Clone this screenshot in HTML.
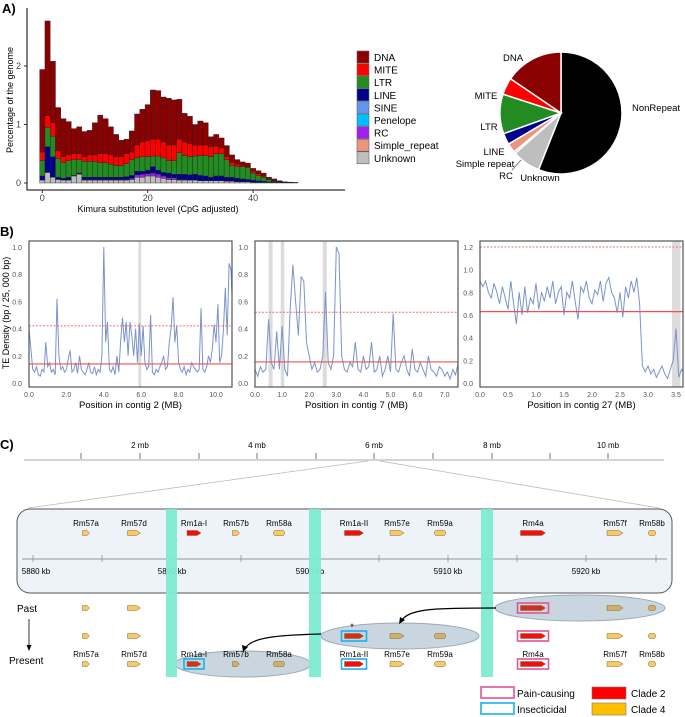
<!DOCTYPE html>
<html><head><meta charset="utf-8"><style>
html,body{margin:0;padding:0;background:#fff;}
svg{display:block;font-family:"Liberation Sans",sans-serif;}
</style></head><body>
<svg id="fig" width="685" height="717" viewBox="0 0 685 717">
<g id="A"></g>
<g id="B"></g>
<g id="C"></g>
</svg>
<script>
// ---------- Panel A data ----------
const kimura = [0,1,2,3,4,5,6,7,8,9,10,11,12,13,14,15,16,17,18,19,20,21,22,23,24,25,26,27,28,29,30,31,32,33,34,35,36,37,38,39,40,41,42,43,44,45,46,47,48];
const unknownTop = [.05,.18,.1,.06,.05,.05,.12,.15,.05,.05,.05,.05,.05,.05,.05,.05,.05,.06,.1,.1,.12,.12,.1,.08,.06,.06,.05,.05,.05,.05,.04,.04,.04,.04,.04,.03,.03,.02,.02,.02,.01,.01,.01,.01,.01,0,0,0,0];
const rcTop = [.05,.18,.1,.06,.05,.05,.12,.15,.06,.06,.06,.06,.06,.06,.06,.06,.06,.08,.14,.15,.16,.17,.15,.12,.09,.09,.06,.06,.05,.05,.04,.04,.04,.04,.04,.03,.03,.02,.02,.02,.01,.01,.01,.01,.01,0,0,0,0];
const lineTop = [.12,.62,.45,.1,.08,.1,.13,.17,.1,.1,.1,.1,.1,.1,.1,.1,.11,.13,.2,.2,.22,.28,.22,.18,.17,.15,.15,.15,.14,.15,.13,.12,.1,.12,.12,.1,.1,.08,.07,.06,.05,.04,.03,.02,.02,.01,.01,.005,.003];
const ltrTop = [.38,.95,.8,.42,.35,.38,.4,.4,.37,.37,.37,.35,.35,.32,.3,.3,.33,.4,.43,.45,.45,.46,.46,.43,.38,.38,.52,.47,.45,.46,.47,.47,.45,.5,.5,.4,.3,.28,.28,.26,.17,.13,.1,.06,.03,.02,.012,.008,.005];
const miteTop = [.53,1.15,1.03,.55,.45,.48,.5,.5,.45,.48,.48,.5,.5,.48,.45,.45,.5,.53,.65,.7,.72,.75,.75,.7,.65,.65,.75,.7,.67,.65,.65,.65,.62,.63,.6,.45,.35,.32,.3,.28,.2,.16,.12,.07,.04,.03,.015,.01,.006];
const totalTop = [1.94,2.77,2.08,1.29,1.10,1.05,0.93,0.96,0.88,0.90,1.03,1.16,1.10,0.96,0.83,0.73,0.75,0.89,1.18,1.26,1.34,1.59,1.58,1.47,1.45,1.42,1.43,1.19,1.14,1.00,1.06,1.03,0.79,0.83,0.77,0.64,0.48,0.40,0.36,0.34,0.25,0.21,0.17,0.10,0.07,0.04,0.02,0.015,0.01];
const aYTicks = [0,1,2];
const aXTicks = [0,20,40];
const legendNames = ["DNA","MITE","LTR","LINE","SINE","Penelope","RC","Simple_repeat","Unknown"];
const legendColors = ["#8b0000","#ff0000","#228b22","#00008b","#6495ed","#00bfff","#a020f0","#e9967a","#bebebe"];
const pieNames = ["NonRepeat","Unknown","RC","Simple repeat","LINE","LTR","MITE","DNA"];
const pieValues = [0.56,0.075,0.005,0.025,0.03,0.105,0.045,0.155];
const pieColors = ["#000000","#bebebe","#a020f0","#e9967a","#00008b","#228b22","#ff0000","#8b0000"];

// ---------- Panel B data ----------
const p1Vals = [0.4,0.25,0.1,0.08,0.12,0.06,0.05,0.1,0.08,0.3,0.12,0.15,0.08,0.1,0.06,0.62,0.2,0.1,0.12,0.08,0.1,0.18,0.24,0.08,0.1,0.15,0.07,0.2,0.1,0.08,0.06,0.1,0.15,0.08,0.07,0.12,0.06,0.1,0.08,0.2,1.0,0.3,0.45,0.1,0.08,0.12,0.06,0.2,0.08,0.3,0.48,0.3,0.45,0.2,0.45,0.35,0.2,0.4,0.15,0.44,0.2,0.42,0.15,0.1,0.12,0.5,0.08,0.06,0.1,0.08,0.12,0.15,0.2,0.1,0.12,0.3,0.4,0.63,0.3,0.42,0.15,0.1,0.08,0.12,0.06,0.1,0.08,0.15,0.12,0.1,0.08,0.1,0.55,0.1,0.08,0.12,0.2,0.15,0.25,0.43,0.3,0.58,0.15,0.2,0.4,0.7,0.35,0.88,0.83,0.5,0.25];
const p2Vals = [0.1,0.05,0.12,0.08,0.1,0.47,0.15,0.1,0.38,0.1,0.42,0.1,0.05,0.55,0.87,0.6,0.35,0.78,0.75,0.3,0.2,0.1,0.15,0.08,0.1,0.2,0.67,0.15,0.1,0.2,1.0,0.95,0.2,0.1,0.08,0.15,0.12,0.3,0.1,0.08,0.2,0.1,0.12,0.3,0.08,0.1,0.2,0.05,0.1,0.2,0.08,0.51,0.1,0.08,0.15,0.2,0.1,0.05,0.25,0.1,0.08,0.15,0.1,0.05,0.2,0.1,0.08,0.05,0.12,0.1,0.05,0.08,0.03,0.1,0.06,0.15,0.1,0.05,0.75];
const p3Vals = [0.9,0.85,0.9,0.8,0.75,0.88,0.8,0.7,0.85,0.75,0.65,0.9,0.7,0.52,0.8,0.6,0.85,0.62,0.75,0.7,0.88,0.65,0.8,0.72,0.85,0.75,0.9,0.7,0.8,0.85,0.6,0.8,0.75,0.9,0.72,0.56,0.85,0.8,0.9,0.75,0.7,0.82,0.78,0.9,0.72,0.88,0.93,0.8,0.75,0.62,0.8,0.58,0.85,0.75,0.9,0.8,0.93,0.7,0.15,0.1,0.15,0.08,0.12,0.05,0.1,0.15,0.08,0.04,0.12,0.2,0.48,0.05,0.12,0.08,0.1,0.76,0.5,0.7,0.3,0.2];
const p1Step = 0.1, p2Step = 0.1, p3Step = 0.05;
const p1Lines = [0.14,0.42], p2Lines = [0.155,0.52], p3Lines = [0.63,1.2];
const p1Bands = [[5.85,6.0]], p2Bands = [[0.5,0.65],[0.95,1.08],[2.5,2.65]], p3Bands = [[3.43,3.58],[3.68,3.78]];
const p1XTicks = ["0.0","2.0","4.0","6.0","8.0","10.0"], p2XTicks = ["0.0","1.0","2.0","3.0","4.0","5.0","6.0","7.0"], p3XTicks = ["0.0","0.5","1.0","1.5","2.0","2.5","3.0","3.5"];
const p12YTicks = ["0.0","0.2","0.4","0.6","0.8","1.0"], p3YTicks = ["0.0","0.2","0.4","0.6","0.8","1.0","1.2"];

const NS="http://www.w3.org/2000/svg";
function mk(parent,tag,attrs,text){const e=document.createElementNS(NS,tag);for(const k in attrs)e.setAttribute(k,attrs[k]);if(text!==undefined)e.textContent=text;parent.appendChild(e);return e;}

// ---------- Panel A ----------
(function(){
const g=document.getElementById('A');
let t=mk(g,'text',{x:2,y:13,'font-size':13,'font-weight':'bold'},'A)');

const X=k=>42.3+5.27*k, Y=v=>183-58.5*v;
let ax=mk(g,'path',{d:'M27,8 V190 H345',stroke:'#000',fill:'none','stroke-width':1});

aYTicks.forEach(v=>{mk(g,'line',{x1:24,x2:27,y1:Y(v),y2:Y(v),stroke:'#333'});
 let l=mk(g,'text',{x:21,y:Y(v)+3,'font-size':9,fill:'#444','text-anchor':'end'},String(v));
 });
aXTicks.forEach(v=>{mk(g,'line',{x1:X(v),x2:X(v),y1:190,y2:193,stroke:'#333'});
 let l=mk(g,'text',{x:X(v),y:201,'font-size':9,fill:'#444','text-anchor':'middle'},String(v));
 });
let xt=mk(g,'text',{x:158,y:212,'font-size':9,'text-anchor':'middle'},'Kimura substitution level (CpG adjusted)');

let yt=mk(g,'text',{x:0,y:0,'font-size':9,'text-anchor':'middle',transform:'translate(13,100) rotate(-90)'},'Percentage of the genome');

const layers=[[null,unknownTop,'#bebebe'],[unknownTop,rcTop,'#a020f0'],[rcTop,lineTop,'#00008b'],[lineTop,ltrTop,'#228b22'],[ltrTop,miteTop,'#ff0000'],[miteTop,totalTop,'#8b0000']];
kimura.forEach((k,i)=>{
 layers.forEach(([lo,hi,c])=>{const b=lo?lo[i]:0,tp=hi[i];if(tp-b<=0)return;
  let r=mk(g,'rect',{x:X(k)-2.63,y:Y(tp),width:5.27,height:Y(b)-Y(tp),fill:c,stroke:'#222','stroke-width':0.4});
  });
});
// legend
legendNames.forEach((n,i)=>{const y=51+i*12.6;
 let r=mk(g,'rect',{x:357,y:y,width:12,height:12,fill:legendColors[i],stroke:'#666','stroke-width':0.6});
 
 let l=mk(g,'text',{x:374,y:y+10,'font-size':10},n);
 });
// pie
const cx=561,cy=113,R=61;let a0=0;
pieValues.forEach((v,i)=>{const a1=a0+v*2*Math.PI;
 const p=a=>[cx+R*Math.sin(a),cy-R*Math.cos(a)];const [x0,y0]=p(a0),[x1,y1]=p(a1);
 let s=mk(g,'path',{d:`M${cx},${cy} L${x0},${y0} A${R},${R} 0 ${a1-a0>Math.PI?1:0} 1 ${x1},${y1} Z`,fill:pieColors[i],stroke:'#fff','stroke-width':1.5});
 a0=a1;});
const pl=[["DNA",513,61,'middle'],["MITE",486,99,'middle'],["LTR",489,130,'middle'],["LINE",494,155,'middle'],["Simple repeat",485,167,'middle'],["RC",506,179,'middle'],["Unknown",540,181,'middle'],["NonRepeat",632,111,'start']];
pl.forEach(([n,x,y,an])=>{let l=mk(g,'text',{x:x,y:y,'font-size':9.5,'text-anchor':an},n);
 });
mk(g,'line',{x1:512,y1:170,x2:521,y2:160,stroke:'#444','stroke-width':0.6});
})();

// ---------- Panel B ----------
(function(){
const g=document.getElementById('B');
let t=mk(g,'text',{x:0,y:236,'font-size':13,'font-weight':'bold'},'B)');

let yt=mk(g,'text',{x:0,y:0,'font-size':9,'text-anchor':'middle',transform:'translate(9,313) rotate(-90)'},'TE Density (bp / 25, 000 bp)');

const panels=[
 {vals:p1Vals,step:p1Step,lines:p1Lines,bands:p1Bands,xt:p1XTicks,yt:p12YTicks,L:29,R:232,x0:29,xPer:18.7,xTickStep:2,yMaxV:1.0,yTop:247,title:'Position in contig 2 (MB)'},
 {vals:p2Vals,step:p2Step,lines:p2Lines,bands:p2Bands,xt:p2XTicks,yt:p12YTicks,L:255,R:458,x0:255,xPer:27.1,xTickStep:1,yMaxV:1.0,yTop:247,title:'Position in contig 7 (MB)'},
 {vals:p3Vals,step:p3Step,lines:p3Lines,bands:p3Bands,xt:p3XTicks,yt:p3YTicks,L:480,R:683,x0:480,xPer:56,xTickStep:0.5,yMaxV:1.2,yTop:247,title:'Position in contig 27 (MB)'}];
panels.forEach((P,pi)=>{
 const X=v=>P.x0+P.xPer*v, Y=v=>383-(383-P.yTop)*v/P.yMaxV;
 const pg=mk(g,'g',{});
 const clipId='clip'+pi;const cp=mk(pg,'clipPath',{id:clipId});mk(cp,'rect',{x:P.L,y:241,width:P.R-P.L,height:146});
 const inner=mk(pg,'g',{'clip-path':`url(#${clipId})`});
 P.bands.forEach(([a,b])=>{let r=mk(inner,'rect',{x:X(a),y:241,width:X(b)-X(a),height:146,fill:'#dcdcdc'});
  });
 let d=P.vals.map((v,i)=>(i?'L':'M')+X(i*P.step).toFixed(1)+','+Y(v).toFixed(1)).join(' ');
 let ln=mk(inner,'path',{d:d,fill:'none',stroke:'#7b93cc','stroke-width':1});
 
 let s=mk(inner,'line',{x1:P.L,x2:P.R,y1:Y(P.lines[0]),y2:Y(P.lines[0]),stroke:'#f05050','stroke-width':1.2});
 
 let ds=mk(inner,'line',{x1:P.L,x2:P.R,y1:Y(P.lines[1]),y2:Y(P.lines[1]),stroke:'#f07070','stroke-width':1,'stroke-dasharray':'2,1.5'});
 
 let bx=mk(pg,'rect',{x:P.L,y:241,width:P.R-P.L,height:146,fill:'none',stroke:'#555','stroke-width':1.2});
 
 P.yt.forEach((lab,i)=>{const v=i*0.2;let l=mk(pg,'text',{x:P.L-7,y:Y(v)+3,'font-size':7,fill:'#555','text-anchor':'end'},lab);
  });
 P.xt.forEach((lab,i)=>{let l=mk(pg,'text',{x:X(i*P.xTickStep),y:397,'font-size':7,fill:'#555','text-anchor':'middle'},lab);
  });
 let tt=mk(pg,'text',{x:(P.L+P.R)/2,y:408,'font-size':9.5,'text-anchor':'middle'},P.title);
 
});
})();

// ---------- Panel C ----------
const mbTicks=[81,140,199,257,316,374,433,492,550,608];
const mbLabels=[["2 mb",140],["4 mb",257],["6 mb",374],["8 mb",492],["10 mb",608]];
const kbTicks=[33,102,172,241,310,379,448,517,586,656];
const kbLabels=[["5880 kb",36],["5890 kb",172],["5900 kb",310],["5910 kb",448],["5920 kb",586]];
const genes=[["Rm57a",86,7,'y'],["Rm57d",134,13,'y'],["Rm1a-I",194,14,'r'],["Rm57b",236,7,'y'],["Rm58a",279,11,'yl'],["Rm1a-II",354,19,'r'],["Rm57e",397,14,'y'],["Rm59a",440,11,'yl'],["Rm4a",533,25,'r'],["Rm57f",615,16,'y'],["Rm58b",652,7,'yl']];
(function(){
const g=document.getElementById('C');
let t=mk(g,'text',{x:0,y:449,'font-size':13,'font-weight':'bold'},'C)');

let sc=mk(g,'line',{x1:24,x2:664,y1:460,y2:460,stroke:'#bbb','stroke-width':1.2});

mbTicks.forEach(x=>mk(g,'line',{x1:x,x2:x,y1:453,y2:459,stroke:'#555','stroke-width':0.8}));
mbLabels.forEach(([n,x])=>{let l=mk(g,'text',{x:x,y:448,'font-size':8,'text-anchor':'middle'},n);});
mk(g,'path',{d:'M368,461 L28,508 M380,461 L659,508',stroke:'#bbb','stroke-width':0.8,fill:'none'});
let box=mk(g,'rect',{x:17,y:509,width:655,height:84,rx:13,fill:'#eef3f9',stroke:'#555','stroke-width':1});

mk(g,'line',{x1:22,x2:667,y1:559,y2:559,stroke:'#777','stroke-width':0.8});
kbTicks.forEach(x=>mk(g,'line',{x1:x,x2:x,y1:555,y2:562,stroke:'#888','stroke-width':0.7}));
kbLabels.forEach(([n,x],i)=>{let l=mk(g,'text',{x:x,y:574,'font-size':8,'text-anchor':i?'middle':'middle'},n);});
// ellipses
[[580,608,85,13],[400,636,79,13],[243,664,68,13]].forEach(([x,y,rx,ry])=>{let e=mk(g,'ellipse',{cx:x,cy:y,rx:rx,ry:ry,fill:'#c9d6df',stroke:'#9aaab5','stroke-width':1});});
// teal bands
[[166,11],[309,12],[481,12]].forEach(([x,w])=>{let r=mk(g,'rect',{x:x,y:509,width:w,height:168,fill:'#7eebd2',opacity:0.95});});
function gene(name,x,w,type,y,dark){
 const h=5,col=type==='r'?(dark?'#d03020':'#ee1111'):(dark?'#cdb06a':'#f6c96a');
 let d;if(type==='yl'){d=`M${x-w/2+1.5},${y-h/2} H${x+w/2-1.5} Q${x+w/2},${y-h/2} ${x+w/2},${y} Q${x+w/2},${y+h/2} ${x+w/2-1.5},${y+h/2} H${x-w/2+1.5} Q${x-w/2},${y+h/2} ${x-w/2},${y} Q${x-w/2},${y-h/2} ${x-w/2+1.5},${y-h/2}Z`;}
 else {const tip=Math.min(4,w*0.35);d=`M${x-w/2},${y-h/2} H${x+w/2-tip} L${x+w/2},${y} L${x+w/2-tip},${y+h/2} H${x-w/2} Z`;}
 let p=mk(g,'path',{d:d,fill:col,stroke:'#8a6a20','stroke-width':0.5});
 
}
function frame(x,w,y,c){let r=mk(g,'rect',{x:x-w/2-3,y:y-5,width:w+6,height:10,fill:'none',stroke:c,'stroke-width':1.6});}
genes.forEach(([n,x,w,tp])=>{let l=mk(g,'text',{x:x,y:526,'font-size':8,'text-anchor':'middle'},n);gene(n,x,w,tp,533,false);});
const past=["Rm57a","Rm57d","Rm4a","Rm57f","Rm58b"], mid=["Rm57a","Rm57d","Rm1a-II","Rm57e","Rm59a","Rm4a","Rm57f","Rm58b"];
genes.forEach(([n,x,w,tp])=>{
 if(past.includes(n)){gene(n,x,w,tp,608,x>490);if(n==='Rm4a')frame(x,w,608,'#e0559a');}
 if(mid.includes(n)){gene(n,x,w,tp,636,x>320&&x<480);if(n==='Rm4a')frame(x,w,636,'#e0559a');if(n==='Rm1a-II')frame(x,w,636,'#1ab0ee');}
 let l=mk(g,'text',{x:x,y:657,'font-size':8,'text-anchor':'middle'},n);
 gene(n,x,w,tp,664,x>170&&x<300);
 if(n==='Rm4a')frame(x,w,664,'#e0559a');if(n==='Rm1a-II'||n==='Rm1a-I')frame(x,w,664,'#1ab0ee');
});
let st=mk(g,'text',{x:352,y:630,'font-size':9,'text-anchor':'middle'},'*');
mk(g,'path',{d:'M496,608 C440,608 410,608 402,620',fill:'none',stroke:'#000','stroke-width':1.2});
mk(g,'path',{d:'M399,624 L400,617 L405,620 Z',fill:'#000'});
mk(g,'path',{d:'M321,634 C280,635 250,637 245,649',fill:'none',stroke:'#000','stroke-width':1.2});
mk(g,'path',{d:'M243,652 L242,645 L248,647 Z',fill:'#000'});
[["Past",17,612],["Present",9,664]].forEach(([n,x,y])=>{let l=mk(g,'text',{x:x,y:y,'font-size':10},n);});
mk(g,'line',{x1:29,x2:29,y1:619,y2:647,stroke:'#000','stroke-width':0.8});
mk(g,'path',{d:'M26.5,645 L31.5,645 L29,651 Z',fill:'#000'});
// legend
[[481,687,'#e0559a','Pain-causing'],[481,703,'#1ab0ee','Insecticidal']].forEach(([x,y,c,n])=>{let r=mk(g,'rect',{x:x,y:y,width:33,height:11,fill:'#fff',stroke:c,'stroke-width':1.6});let l=mk(g,'text',{x:517,y:y+10,'font-size':10},n);});
[[592,687,'#ff0000','Clade 2'],[592,703,'#ffbf00','Clade 4']].forEach(([x,y,c,n])=>{let r=mk(g,'rect',{x:x,y:y,width:34,height:12,fill:c,stroke:'#777','stroke-width':0.6});let l=mk(g,'text',{x:631,y:y+10,'font-size':10},n);});
})();
</script>
</body></html>
